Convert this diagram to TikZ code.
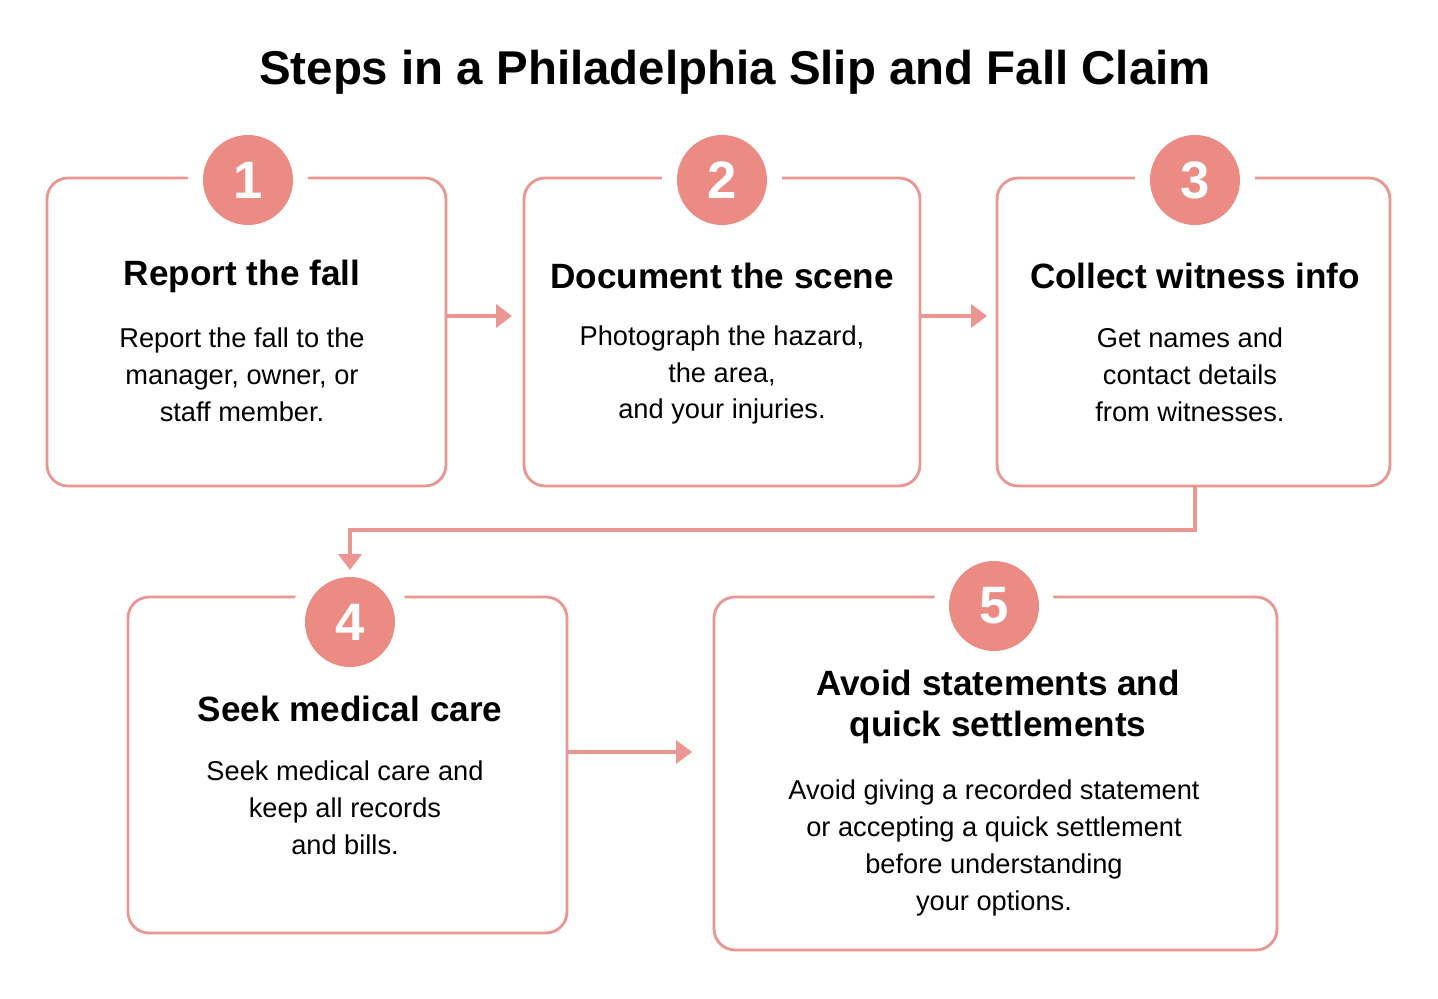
\documentclass[tikz,border=0pt]{standalone}
\usepackage{fontspec}
\setmainfont{Liberation Sans}
\usetikzlibrary{arrows.meta,positioning}
\definecolor{salmon}{RGB}{234,150,145}
\definecolor{disc}{RGB}{236,138,132}
\tikzset{
box/.style={draw=salmon,line width=1.6pt,rounded corners=12pt,fill=white},
num/.style={circle,fill=disc,text=white,minimum size=1.8cm,inner sep=0pt,font=\fontsize{30}{30}\selectfont\bfseries},
gap/.style={circle,fill=white,minimum size=2.4cm,inner sep=0pt},
head/.style={font=\fontsize{20}{23}\selectfont\bfseries,align=center},
body/.style={font=\fontsize{15.5}{21}\selectfont,align=center},
flow/.style={draw=salmon,line width=2.2pt,-{Triangle[length=9pt,width=13pt]}}
}
\begin{document}
\begin{tikzpicture}[x=0.02cm,y=-0.02cm]
\useasboundingbox[fill=white] (0,0) rectangle (1438,999);
\node[font=\fontsize{27}{30}\selectfont\bfseries] (T) at (735,72) {Steps in a Philadelphia Slip and Fall Claim};
% boxes
\draw[box] (47,178) rectangle (446,486);
\draw[box] (524,178) rectangle (920,486);
\draw[box] (997,178) rectangle (1390,486);
\draw[box] (128,597) rectangle (567,933);
\draw[box] (714,597) rectangle (1277,950);
% numbers
\foreach \x/\y/\n in {248/180/1,722/180/2,1195/180/3,350/622/4,994/606/5}{
\node[gap] at (\x,\y) {};
\node[num] (N\n) at (\x,\y) {\n};
}
% texts
\node[head] (H1) at (242,276) {Report the fall};
\node[body] (B1) at (242,375) {Report the fall to the\\manager, owner, or\\staff member.};
\node[head] (H2) at (722,276) {Document the scene};
\node[body] (B2) at (722,375) {Photograph the hazard,\\the area,\\and your injuries.};
\node[head] (H3) at (1195,276) {Collect witness info};
\node[body] (B3) at (1190,375) {Get names and\\contact details\\from witnesses.};
\node[head] (H4) at (350,709) {Seek medical care};
\node[body] (B4) at (345,808) {Seek medical care and\\keep all records\\and bills.};
\node[head] (H5) at (998,707) {Avoid statements and\\quick settlements};
\node[body] (B5) at (994,848) {Avoid giving a recorded statement\\or accepting a quick settlement\\before understanding\\your options.};
% connectors
\coordinate (a1) at (446,316); \coordinate (a2) at (512,316);
\coordinate (b1) at (920,316); \coordinate (b2) at (987,316);
\coordinate (c1) at (1195,486); \coordinate (c2) at (350,570);
\coordinate (d1) at (567,752); \coordinate (d2) at (692,752);
\draw[flow] (a1) -- (a2);
\draw[flow] (b1) -- (b2);
\draw[flow] (c1) |- (350,530) -- (c2);
\draw[flow] (d1) -- (d2);
\end{tikzpicture}
\end{document}
